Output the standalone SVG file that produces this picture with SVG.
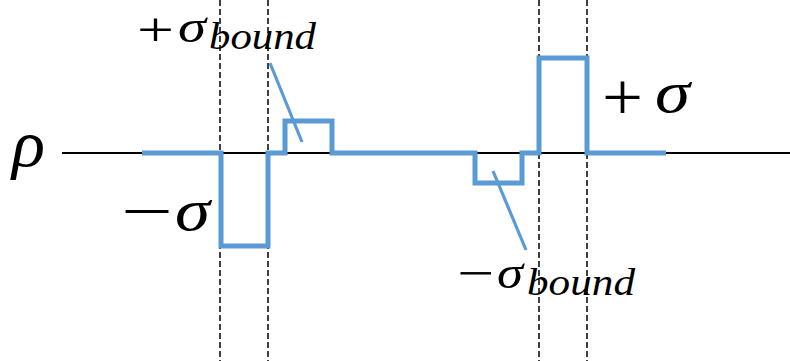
<svg xmlns="http://www.w3.org/2000/svg" width="790" height="361" viewBox="0 0 790 361">
<style>
.dash{stroke:#000;stroke-width:1.5;stroke-dasharray:6 3;fill:none}
.axis{stroke:#000;stroke-width:2;fill:none}
.blue{stroke:#5b9bd5;stroke-width:5;fill:none;stroke-linejoin:miter}
.ptr{stroke:#5b9bd5;stroke-width:3.2;fill:none}
.t{font-family:'Liberation Serif','Times New Roman',serif;fill:#000}
.i{font-style:italic}
</style>
<rect width="790" height="361" fill="#fff"/>
<g id="axis">
<line class="axis" x1="62" y1="153" x2="790" y2="153"/>
</g>
<g id="guides">
<line class="dash" x1="220" y1="0" x2="220" y2="361"/>
<line class="dash" x1="268" y1="0" x2="268" y2="361"/>
<line class="dash" x1="539" y1="0" x2="539" y2="361"/>
<line class="dash" x1="587" y1="0" x2="587" y2="361"/>
</g>
<g id="profile">
<path class="blue" d="M142,153 H221 V246 H268 V153 H285 V121 H332 V153 H475 V183 H522 V153 H539 V58 H587 V153 H666"/>
</g>
<g id="connectors">
<line class="ptr" x1="270" y1="63" x2="302" y2="142"/>
<line class="ptr" x1="493" y1="171" x2="526" y2="250"/>
</g>
<g id="label-rho">
<text class="t i" x="12" y="166" font-size="66" textLength="33" lengthAdjust="spacingAndGlyphs">ρ</text>
</g>
<g id="label-minus-sigma">
<text class="t" x="121" y="232" font-size="62" textLength="52" lengthAdjust="spacingAndGlyphs">−</text>
<text class="t i" x="175" y="230" font-size="60" textLength="35" lengthAdjust="spacingAndGlyphs">σ</text>
</g>
<g id="label-plus-sigma">
<text class="t" x="602" y="120" font-size="68" textLength="41" lengthAdjust="spacingAndGlyphs">+</text>
<text class="t i" x="655" y="112" font-size="60" textLength="35" lengthAdjust="spacingAndGlyphs">σ</text>
</g>
<g id="label-plus-sigma-bound">
<text class="t" x="137" y="46" font-size="48" textLength="37" lengthAdjust="spacingAndGlyphs">+</text>
<text class="t i" x="178" y="42" font-size="46" textLength="28" lengthAdjust="spacingAndGlyphs">σ</text>
<text class="t i" x="209" y="49" font-size="38" textLength="107" lengthAdjust="spacingAndGlyphs">bound</text>
</g>
<g id="label-minus-sigma-bound">
<text class="t" x="457" y="290" font-size="50" textLength="37" lengthAdjust="spacingAndGlyphs">−</text>
<text class="t i" x="497" y="288" font-size="46" textLength="26" lengthAdjust="spacingAndGlyphs">σ</text>
<text class="t i" x="527" y="295" font-size="38" textLength="108" lengthAdjust="spacingAndGlyphs">bound</text>
</g>
</svg>
